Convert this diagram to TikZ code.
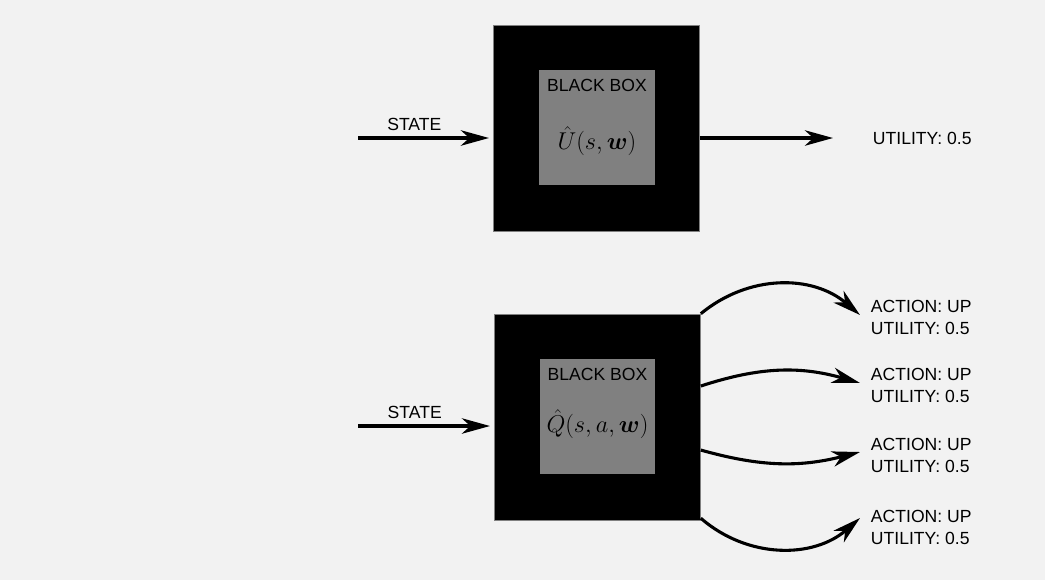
\documentclass[tikz,border=0pt]{standalone}
\usepackage{amsmath}
\usepackage{amssymb}
\usepackage{fontspec}
\setmainfont{Liberation Sans}
\usepackage{tikz}
\usetikzlibrary{calc}
\usetikzlibrary{arrows.meta}
\definecolor{bgcol}{HTML}{F2F2F2}
\definecolor{innercol}{HTML}{808080}
\tikzset{every node/.style={font=\fontsize{12.5}{15.6}\selectfont}}
\tikzset{
  outerbox/.style={fill=black, draw=gray, thin, minimum size=5.15cm, inner sep=0pt},
  innerbox/.style={fill=innercol, draw=none, minimum size=2.875cm, inner sep=0pt},
  flow/.style={line width=2.2pt, -{Stealth[length=20pt, width=11pt, inset=6pt]}},
  formula/.style={font=\LARGE}
}

\begin{document}
\begin{tikzpicture}[x=0.025cm, y=-0.025cm]
            \fill[bgcol] (0,0) rectangle (1045,580);

            % value function
            \node[outerbox] (boxU) at (596.5,128) {};
            \node[innerbox] (innerU) at (597,127.5) {};
            \node[anchor=north] (titleU) at ([yshift=-3pt]innerU.north) {BLACK BOX};
            \node[formula] (fU) at ([yshift=-0.35cm]innerU.center) {$\hat{U}(s, \boldsymbol{w})$};

            \coordinate (inU) at (358,138);
            \coordinate (outU) at (833,138);
            \draw [flow] (inU) -- ([xshift=-3pt]boxU.west |- inU) node[pos=0.43, above=1pt] (stateU) {STATE};
            \draw [flow] (boxU.east |- outU) -- (outU);
            \node[anchor=west] (utilU) at (868,138) {UTILITY: 0.5};

            % action value function
            \node[outerbox] (boxQ) at (597.5,417) {};
            \node[innerbox] (innerQ) at (597.5,416.5) {};
            \node[anchor=north] (titleQ) at ([yshift=-3pt]innerQ.north) {BLACK BOX};
            \node[formula] (fQ) at ([yshift=-0.2cm]innerQ.center) {$\hat{Q}(s, a, \boldsymbol{w})$};

            \coordinate (inQ) at (358,426);
            \draw [flow] (inQ) -- ([xshift=-3pt]boxQ.west |- inQ) node[pos=0.43, above=1pt] (stateQ) {STATE};

            \foreach \i/\y/\t/\f/\b in {1/317/315/0/40, 2/385/383/0.35/17, 3/455/452/0.66/-15, 4/527/518/0.99/-41} {
                \node[anchor=west, align=left] (act\i) at (866,\y) {ACTION: UP\\UTILITY: 0.5};
                \coordinate (tip\i) at (860,\t);
                \draw [flow] ($(boxQ.north east)!\f!(boxQ.south east)$) to[bend left=\b] (tip\i);
            }
        \end{tikzpicture}
\end{document}
